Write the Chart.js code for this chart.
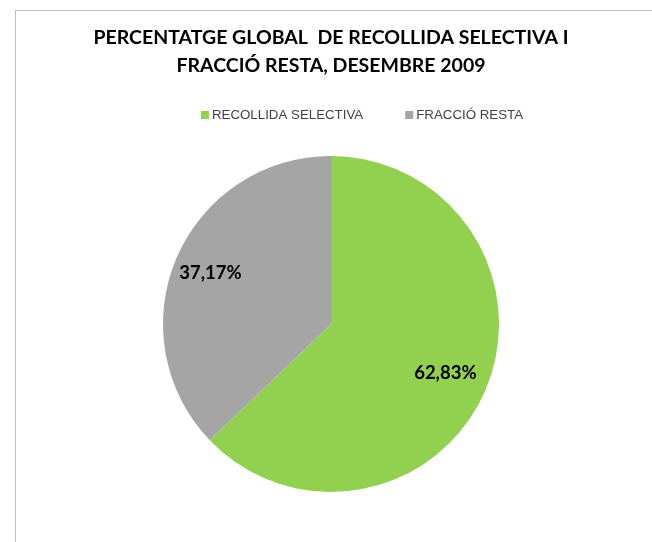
<!DOCTYPE html>
<html>
<head>
<meta charset="utf-8">
<script src="https://cdn.jsdelivr.net/npm/chart.js@4/dist/chart.umd.min.js"></script>
<style>
  html, body { margin: 0; padding: 0; background: #fff; }
  #wrap { width: 652px; height: 542px; }
</style>
</head>
<body>
<div id="wrap"><canvas id="chart" width="652" height="542"></canvas></div>
<script>
'use strict';

let categories = ['RECOLLIDA SELECTIVA', 'FRACCIÓ RESTA'];
let percentValues = [62.83, 37.17];
let sliceColors = ['#92D050', '#A5A5A5'];
let titleLines = ['PERCENTATGE GLOBAL  DE RECOLLIDA SELECTIVA I', 'FRACCIÓ RESTA, DESEMBRE 2009'];

let canvasElem = document.getElementById('chart');

// grey frame round the chart, it runs off the right and bottom
let framePlugin = {
  id: 'frame',
  beforeDraw(chart) {
    let ctx = chart.ctx;
    ctx.save();
    ctx.strokeStyle = '#BFBFBF';
    ctx.lineWidth = 1;
    ctx.strokeRect(15.5, 10.5, 900, 900);
    ctx.restore();
  }
};

// legend drawn by hand so the spacing matches the original
let legendPlugin = {
  id: 'myLegend',
  afterDraw(chart) {
    let ctx = chart.ctx;
    let colors = chart.data.datasets[0].backgroundColor;
    ctx.save();
    ctx.font = '13.3px "Liberation Sans", Arial, sans-serif';
    ctx.textBaseline = 'middle';
    let box = 8, gapText = 3, gapItem = 42;
    let total = 0;
    let widths = chart.data.labels.map(function (l) { return ctx.measureText(l).width; });
    for (let i = 0; i < widths.length; i++) {
      total += box + gapText + widths[i];
      if (i > 0) total += gapItem;
    }
    let x = 362 - total / 2;
    let y = 115;
    for (let i = 0; i < chart.data.labels.length; i++) {
      ctx.fillStyle = colors[i];
      ctx.fillRect(x, y - box / 2, box, box);
      x += box + gapText;
      ctx.fillStyle = '#404040';
      ctx.fillText(chart.data.labels[i], x, y);
      x += widths[i] + gapItem;
    }
    ctx.restore();
  }
};

// percentage labels inside the slices
let labelPlugin = {
  id: 'sliceLabels',
  afterDatasetsDraw(chart) {
    let ctx = chart.ctx;
    let meta = chart.getDatasetMeta(0);
    let dist = [0.74, 0.78];
    ctx.save();
    ctx.font = 'bold 18.5px Lato, "Open Sans", sans-serif';
    ctx.fillStyle = '#000';
    ctx.textAlign = 'center';
    ctx.textBaseline = 'middle';
    meta.data.forEach(function (arc, i) {
      let p = arc.getProps(['x', 'y', 'startAngle', 'endAngle', 'outerRadius'], true);
      let mid = (p.startAngle + p.endAngle) / 2;
      let r = p.outerRadius * dist[i];
      let txt = percentValues[i].toFixed(2).replace('.', ',') + '%';
      ctx.fillText(txt, p.x + Math.cos(mid) * r, p.y + Math.sin(mid) * r);
    });
    ctx.restore();
  }
};

let chartObj = {
  type: 'pie',
  data: {
    labels: categories,
    datasets: [{
      data: percentValues,
      backgroundColor: sliceColors,
      borderWidth: 0
    }]
  },
  options: {
    responsive: false,
    animation: false,
    layout: {
      padding: { top: 16, left: 10, right: 0, bottom: 50 }
    },
    plugins: {
      legend: { display: false },
      tooltip: { enabled: false },
      title: {
        display: true,
        text: titleLines,
        color: '#000',
        font: { family: 'Lato, "Open Sans", sans-serif', size: 19.5, weight: 'bold', lineHeight: 1.436 },
        padding: { top: 8, bottom: 76 }
      }
    }
  },
  plugins: [framePlugin, legendPlugin, labelPlugin]
};

new Chart(canvasElem, chartObj);
</script>
</body>
</html>
